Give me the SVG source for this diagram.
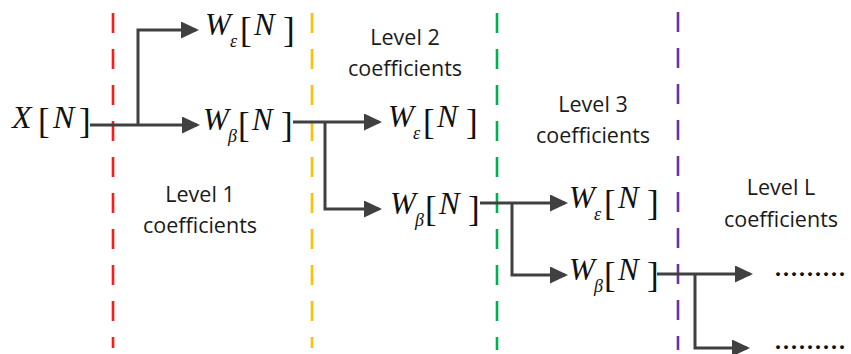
<svg xmlns="http://www.w3.org/2000/svg" width="851" height="354" viewBox="0 0 851 354">
  <style>
    .divider { fill: none; stroke-width: 2.6; stroke-dasharray: 20 16; }
    .wire { fill: none; stroke: #404040; stroke-width: 3; }
    .wire-arrow { marker-end: url(#head); }
    .math { font-family: "Liberation Serif", "Times New Roman", serif; fill: #111; }
    .it { font-style: italic; font-size: 31px; }
    .sub { font-style: italic; font-size: 18px; }
    .br { font-size: 35px; }
    .level { font-family: "Open Sans", "Liberation Sans", sans-serif; font-size: 21.5px; fill: #1a1a1a; text-anchor: middle; }
    .dots { font-family: "Liberation Serif", "Times New Roman", serif; font-size: 24px; font-weight: bold; letter-spacing: 2px; fill: #111; }
  </style>
  <defs>
    <marker id="head" markerUnits="userSpaceOnUse" markerWidth="18" markerHeight="17" refX="15" refY="8.5" orient="auto">
      <path d="M0,0 L18,8.5 L0,17 Z" fill="#404040"/>
    </marker>
  </defs>

  <rect width="851" height="354" fill="#ffffff"/>

  <!-- level dividers -->
  <g id="dividers">
    <line class="divider" x1="113" y1="13" x2="113" y2="348" stroke="#ff1a1a"/>
    <line class="divider" x1="312" y1="13" x2="312" y2="348" stroke="#ffc000"/>
    <line class="divider" x1="497" y1="13" x2="497" y2="350" stroke="#00b050"/>
    <line class="divider" x1="678" y1="12" x2="678" y2="350" stroke="#7030a0"/>
  </g>

  <!-- connectors -->
  <g id="connectors">
    <path class="wire wire-arrow" d="M90,125 H197"/>
    <path class="wire wire-arrow" d="M138,125 V30 H196"/>
    <path class="wire wire-arrow" d="M293,122 H379"/>
    <path class="wire wire-arrow" d="M325,122 V209 H379"/>
    <path class="wire wire-arrow" d="M480,203 H565"/>
    <path class="wire wire-arrow" d="M512,203 V275 H565"/>
    <path class="wire wire-arrow" d="M657,274 H750"/>
    <path class="wire wire-arrow" d="M695,274 V348 H747"/>
  </g>

  <!-- signal nodes -->
  <g id="x-input">
    <text class="math"><tspan class="it" style="font-size:32px" x="12" y="128">X</tspan><tspan class="br" x="38" y="133">[</tspan><tspan class="it" style="font-size:32px" x="53" y="128">N</tspan><tspan class="br" x="79" y="133">]</tspan></text>
  </g>

  <g id="w-eps-1">
    <text class="math"><tspan class="it" x="205" y="35">W</tspan><tspan class="sub" x="230" y="47">ε</tspan><tspan class="br" x="240" y="42">[</tspan><tspan class="it" x="254" y="35">N</tspan><tspan class="br" x="283" y="42">]</tspan></text>
  </g>
  <g id="w-beta-1">
    <text class="math"><tspan class="it" x="203" y="130">W</tspan><tspan class="sub" x="228" y="142">β</tspan><tspan class="br" x="238" y="137">[</tspan><tspan class="it" x="252" y="130">N</tspan><tspan class="br" x="281" y="137">]</tspan></text>
  </g>

  <g id="w-eps-2">
    <text class="math"><tspan class="it" x="388" y="127">W</tspan><tspan class="sub" x="413" y="139">ε</tspan><tspan class="br" x="423" y="134">[</tspan><tspan class="it" x="437" y="127">N</tspan><tspan class="br" x="466" y="134">]</tspan></text>
  </g>
  <g id="w-beta-2">
    <text class="math"><tspan class="it" x="390" y="214">W</tspan><tspan class="sub" x="415" y="226">β</tspan><tspan class="br" x="425" y="221">[</tspan><tspan class="it" x="439" y="214">N</tspan><tspan class="br" x="468" y="221">]</tspan></text>
  </g>

  <g id="w-eps-3">
    <text class="math"><tspan class="it" x="569" y="208">W</tspan><tspan class="sub" x="594" y="220">ε</tspan><tspan class="br" x="604" y="215">[</tspan><tspan class="it" x="618" y="208">N</tspan><tspan class="br" x="647" y="215">]</tspan></text>
  </g>
  <g id="w-beta-3">
    <text class="math"><tspan class="it" x="569" y="280">W</tspan><tspan class="sub" x="594" y="292">β</tspan><tspan class="br" x="604" y="287">[</tspan><tspan class="it" x="618" y="280">N</tspan><tspan class="br" x="647" y="287">]</tspan></text>
  </g>

  <g id="continue-eps">
    <text class="dots" x="775" y="275.5">.........</text>
  </g>
  <g id="continue-beta">
    <text class="dots" x="775" y="349">.........</text>
  </g>

  <!-- level captions -->
  <g id="level-1">
    <text class="level" x="200" y="202">Level 1</text>
    <text class="level" x="200" y="233">coefficients</text>
  </g>
  <g id="level-2">
    <text class="level" x="405" y="45">Level 2</text>
    <text class="level" x="405" y="76">coefficients</text>
  </g>
  <g id="level-3">
    <text class="level" x="593" y="112">Level 3</text>
    <text class="level" x="593" y="143">coefficients</text>
  </g>
  <g id="level-l">
    <text class="level" x="781" y="195">Level L</text>
    <text class="level" x="781" y="227">coefficients</text>
  </g>
</svg>
